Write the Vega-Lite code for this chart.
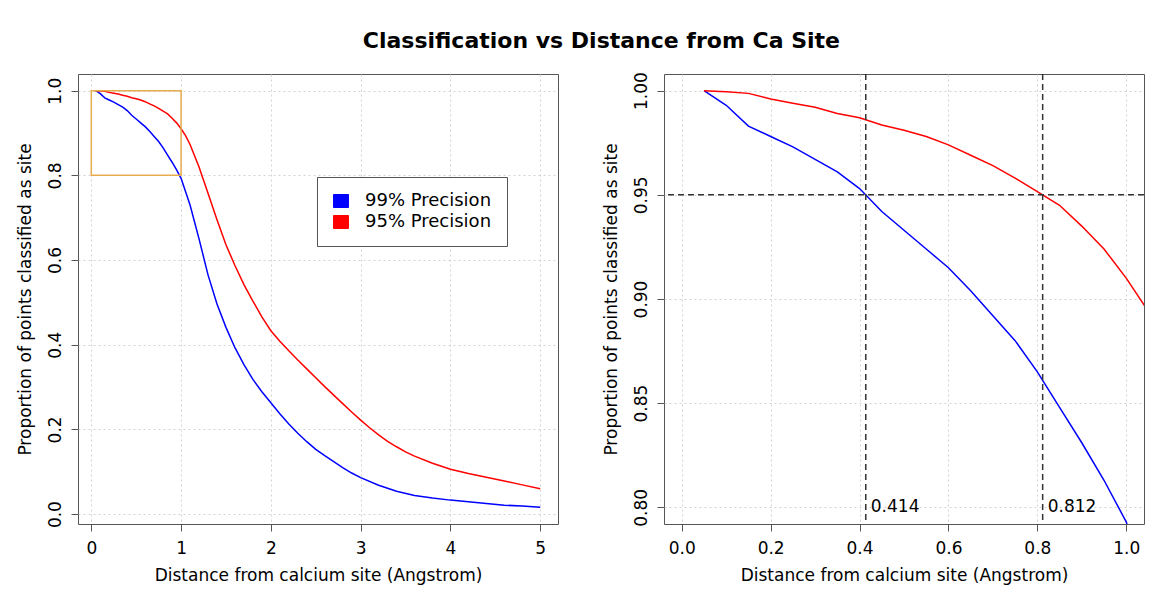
{
  "$schema": "https://vega.github.io/schema/vega-lite/v6.json",
  "padding": {"left": 15, "top": 30, "right": 5, "bottom": 2},
  "background": "#ffffff",
  "title": {"text": "Classification vs Distance from Ca Site", "font": "DejaVu Sans", "fontSize": 22, "fontWeight": "bold", "color": "#000000", "anchor": "middle", "offset": 18, "dx": 21},
  "datasets": {
    "curves": [
      {"x": 0.05, "p": 1.0, "series": "99% Precision"},
      {"x": 0.1, "p": 0.993, "series": "99% Precision"},
      {"x": 0.15, "p": 0.983, "series": "99% Precision"},
      {"x": 0.2, "p": 0.978, "series": "99% Precision"},
      {"x": 0.25, "p": 0.973, "series": "99% Precision"},
      {"x": 0.3, "p": 0.967, "series": "99% Precision"},
      {"x": 0.35, "p": 0.961, "series": "99% Precision"},
      {"x": 0.4, "p": 0.953, "series": "99% Precision"},
      {"x": 0.45, "p": 0.942, "series": "99% Precision"},
      {"x": 0.5, "p": 0.933, "series": "99% Precision"},
      {"x": 0.55, "p": 0.924, "series": "99% Precision"},
      {"x": 0.6, "p": 0.915, "series": "99% Precision"},
      {"x": 0.65, "p": 0.904, "series": "99% Precision"},
      {"x": 0.7, "p": 0.892, "series": "99% Precision"},
      {"x": 0.75, "p": 0.88, "series": "99% Precision"},
      {"x": 0.8, "p": 0.865, "series": "99% Precision"},
      {"x": 0.85, "p": 0.848, "series": "99% Precision"},
      {"x": 0.9, "p": 0.831, "series": "99% Precision"},
      {"x": 0.95, "p": 0.813, "series": "99% Precision"},
      {"x": 1.0, "p": 0.793, "series": "99% Precision"},
      {"x": 1.1, "p": 0.73, "series": "99% Precision"},
      {"x": 1.2, "p": 0.65, "series": "99% Precision"},
      {"x": 1.3, "p": 0.565, "series": "99% Precision"},
      {"x": 1.4, "p": 0.496, "series": "99% Precision"},
      {"x": 1.5, "p": 0.441, "series": "99% Precision"},
      {"x": 1.6, "p": 0.393, "series": "99% Precision"},
      {"x": 1.7, "p": 0.353, "series": "99% Precision"},
      {"x": 1.8, "p": 0.318, "series": "99% Precision"},
      {"x": 1.9, "p": 0.289, "series": "99% Precision"},
      {"x": 2.0, "p": 0.263, "series": "99% Precision"},
      {"x": 2.1, "p": 0.237, "series": "99% Precision"},
      {"x": 2.2, "p": 0.213, "series": "99% Precision"},
      {"x": 2.3, "p": 0.191, "series": "99% Precision"},
      {"x": 2.4, "p": 0.171, "series": "99% Precision"},
      {"x": 2.5, "p": 0.153, "series": "99% Precision"},
      {"x": 2.6, "p": 0.138, "series": "99% Precision"},
      {"x": 2.7, "p": 0.124, "series": "99% Precision"},
      {"x": 2.8, "p": 0.11, "series": "99% Precision"},
      {"x": 2.9, "p": 0.097, "series": "99% Precision"},
      {"x": 3.0, "p": 0.086, "series": "99% Precision"},
      {"x": 3.2, "p": 0.068, "series": "99% Precision"},
      {"x": 3.4, "p": 0.054, "series": "99% Precision"},
      {"x": 3.6, "p": 0.044, "series": "99% Precision"},
      {"x": 3.8, "p": 0.038, "series": "99% Precision"},
      {"x": 4.0, "p": 0.033, "series": "99% Precision"},
      {"x": 4.2, "p": 0.029, "series": "99% Precision"},
      {"x": 4.4, "p": 0.025, "series": "99% Precision"},
      {"x": 4.6, "p": 0.021, "series": "99% Precision"},
      {"x": 4.8, "p": 0.019, "series": "99% Precision"},
      {"x": 5.0, "p": 0.016, "series": "99% Precision"},
      {"x": 0.05, "p": 1.0, "series": "95% Precision"},
      {"x": 0.1, "p": 0.9995, "series": "95% Precision"},
      {"x": 0.15, "p": 0.9987, "series": "95% Precision"},
      {"x": 0.2, "p": 0.996, "series": "95% Precision"},
      {"x": 0.25, "p": 0.994, "series": "95% Precision"},
      {"x": 0.3, "p": 0.992, "series": "95% Precision"},
      {"x": 0.35, "p": 0.989, "series": "95% Precision"},
      {"x": 0.4, "p": 0.987, "series": "95% Precision"},
      {"x": 0.45, "p": 0.9835, "series": "95% Precision"},
      {"x": 0.5, "p": 0.981, "series": "95% Precision"},
      {"x": 0.55, "p": 0.978, "series": "95% Precision"},
      {"x": 0.6, "p": 0.974, "series": "95% Precision"},
      {"x": 0.65, "p": 0.969, "series": "95% Precision"},
      {"x": 0.7, "p": 0.964, "series": "95% Precision"},
      {"x": 0.75, "p": 0.958, "series": "95% Precision"},
      {"x": 0.8, "p": 0.9515, "series": "95% Precision"},
      {"x": 0.85, "p": 0.945, "series": "95% Precision"},
      {"x": 0.9, "p": 0.935, "series": "95% Precision"},
      {"x": 0.95, "p": 0.924, "series": "95% Precision"},
      {"x": 1.0, "p": 0.91, "series": "95% Precision"},
      {"x": 1.05, "p": 0.894, "series": "95% Precision"},
      {"x": 1.1, "p": 0.873, "series": "95% Precision"},
      {"x": 1.2, "p": 0.82, "series": "95% Precision"},
      {"x": 1.3, "p": 0.758, "series": "95% Precision"},
      {"x": 1.4, "p": 0.695, "series": "95% Precision"},
      {"x": 1.5, "p": 0.636, "series": "95% Precision"},
      {"x": 1.6, "p": 0.587, "series": "95% Precision"},
      {"x": 1.7, "p": 0.542, "series": "95% Precision"},
      {"x": 1.8, "p": 0.503, "series": "95% Precision"},
      {"x": 1.9, "p": 0.466, "series": "95% Precision"},
      {"x": 2.0, "p": 0.433, "series": "95% Precision"},
      {"x": 2.1, "p": 0.408, "series": "95% Precision"},
      {"x": 2.2, "p": 0.386, "series": "95% Precision"},
      {"x": 2.3, "p": 0.364, "series": "95% Precision"},
      {"x": 2.4, "p": 0.343, "series": "95% Precision"},
      {"x": 2.5, "p": 0.322, "series": "95% Precision"},
      {"x": 2.6, "p": 0.301, "series": "95% Precision"},
      {"x": 2.7, "p": 0.281, "series": "95% Precision"},
      {"x": 2.8, "p": 0.261, "series": "95% Precision"},
      {"x": 2.9, "p": 0.241, "series": "95% Precision"},
      {"x": 3.0, "p": 0.222, "series": "95% Precision"},
      {"x": 3.1, "p": 0.204, "series": "95% Precision"},
      {"x": 3.2, "p": 0.187, "series": "95% Precision"},
      {"x": 3.3, "p": 0.172, "series": "95% Precision"},
      {"x": 3.4, "p": 0.159, "series": "95% Precision"},
      {"x": 3.5, "p": 0.147, "series": "95% Precision"},
      {"x": 3.6, "p": 0.137, "series": "95% Precision"},
      {"x": 3.8, "p": 0.12, "series": "95% Precision"},
      {"x": 4.0, "p": 0.106, "series": "95% Precision"},
      {"x": 4.2, "p": 0.096, "series": "95% Precision"},
      {"x": 4.4, "p": 0.087, "series": "95% Precision"},
      {"x": 4.6, "p": 0.078, "series": "95% Precision"},
      {"x": 4.8, "p": 0.069, "series": "95% Precision"},
      {"x": 5.0, "p": 0.06, "series": "95% Precision"}
    ],
    "vlines": [{"x": 0.414, "label": "0.414"}, {"x": 0.812, "label": "0.812"}],
    "hline": [{"y": 0.95}],
    "zoombox": [{"x": 0, "x2": 1, "y": 0.8, "y2": 1.0}]
  },
  "hconcat": [
    {
      "width": 480,
      "height": 450,
      "layer": [
        {
          "data": {"name": "curves"},
          "mark": {"type": "line", "strokeWidth": 1.5, "clip": true},
          "encoding": {
            "x": {"field": "x", "type": "quantitative", "scale": {"domain": [-0.148, 5.198], "nice": false, "zero": false},
              "axis": {"title": "Distance from calcium site (Angstrom)", "values": [0, 1, 2, 3, 4, 5], "format": "d", "labelPadding": 9, "titlePadding": 11}},
            "y": {"field": "p", "type": "quantitative", "scale": {"domain": [-0.0234, 1.0394], "nice": false, "zero": false},
              "axis": {"title": "Proportion of points classified as site", "values": [0, 0.2, 0.4, 0.6, 0.8, 1.0], "format": ".1f", "labelAngle": 270, "labelAlign": "center", "labelBaseline": "alphabetic", "labelPadding": 11, "titlePadding": 12}},
            "color": {"field": "series", "type": "nominal",
              "scale": {"domain": ["99% Precision", "95% Precision"], "range": ["#0000FF", "#FF0000"]},
              "legend": {"orient": "none", "legendX": 239, "legendY": 103, "title": null,
                "labelFont": "DejaVu Sans", "labelFontSize": 18, "labelColor": "#000000",
                "symbolType": "M-1.15,-1L1.15,-1L1.15,1L-1.15,1Z", "symbolSize": 169, "symbolStrokeWidth": 1,
                "strokeColor": "#555555", "fillColor": "#ffffff", "padding": 15, "labelOffset": 15, "rowPadding": 3,
                "encode": {"symbols": {"update": {"fill": {"scale": "color", "field": "value"}, "stroke": {"value": "#444444"}, "fillOpacity": {"value": 1}, "opacity": {"value": 1}}}}}}
          }
        },
        {
          "data": {"name": "zoombox"},
          "mark": {"type": "rect", "filled": false, "stroke": "#E6AC4E", "strokeWidth": 1.5},
          "encoding": {
            "x": {"field": "x", "type": "quantitative"},
            "x2": {"field": "x2"},
            "y": {"field": "y", "type": "quantitative"},
            "y2": {"field": "y2"}
          }
        }
      ]
    },
    {
      "width": 480,
      "height": 450,
      "layer": [
        {
          "data": {"name": "curves"},
          "mark": {"type": "line", "strokeWidth": 1.5, "clip": true},
          "encoding": {
            "x": {"field": "x", "type": "quantitative", "scale": {"domain": [-0.04, 1.04], "nice": false, "zero": false},
              "axis": {"title": "Distance from calcium site (Angstrom)", "values": [0, 0.2, 0.4, 0.6, 0.8, 1.0], "format": ".1f", "labelPadding": 9, "titlePadding": 11}},
            "y": {"field": "p", "type": "quantitative", "scale": {"domain": [0.792, 1.008], "nice": false, "zero": false},
              "axis": {"title": "Proportion of points classified as site", "values": [0.8, 0.85, 0.9, 0.95, 1.0], "format": ".2f", "labelAngle": 270, "labelAlign": "center", "labelBaseline": "alphabetic", "labelPadding": 11, "titlePadding": 12}},
            "color": {"field": "series", "type": "nominal", "legend": null}
          }
        },
        {
          "data": {"name": "vlines"},
          "mark": {"type": "rule", "color": "#333333", "strokeWidth": 1.5, "strokeDash": [6, 4]},
          "encoding": {"x": {"field": "x", "type": "quantitative"}}
        },
        {
          "data": {"name": "hline"},
          "mark": {"type": "rule", "color": "#333333", "strokeWidth": 1.5, "strokeDash": [6, 4]},
          "encoding": {"y": {"field": "y", "type": "quantitative"}}
        },
        {
          "data": {"name": "vlines"},
          "mark": {"type": "text", "align": "left", "baseline": "middle", "dx": 5, "font": "DejaVu Sans", "fontSize": 17, "color": "#000000"},
          "encoding": {
            "x": {"field": "x", "type": "quantitative"},
            "y": {"datum": 0.8},
            "text": {"field": "label"}
          }
        }
      ]
    }
  ],
  "spacing": 42,
  "resolve": {"legend": {"color": "independent"}},
  "config": {
    "view": {"stroke": "#555555", "strokeWidth": 1},
    "axis": {"labelFont": "DejaVu Sans", "titleFont": "DejaVu Sans", "labelFontSize": 17, "titleFontSize": 17,
      "labelColor": "#000000", "titleColor": "#000000", "titleFontWeight": "normal", "domain": false,
      "tickColor": "#555555", "tickSize": 7, "tickWidth": 1, "gridColor": "#D3D3D3", "gridDash": [2, 3], "gridWidth": 1,
      "labelFlush": false, "labelOverlap": false}
  }
}
